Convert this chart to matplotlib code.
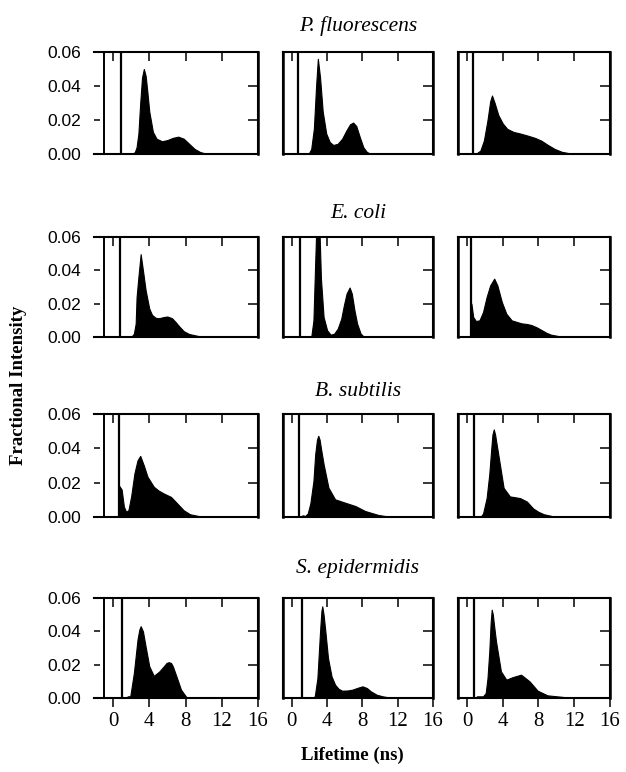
import matplotlib.pyplot as plt
from matplotlib import lines as mlines

plt.rcParams['font.family'] = 'Liberation Serif'

species = ['P. fluorescens', 'E. coli', 'B. subtilis', 'S. epidermidis']
x_ticks = [0, 4, 8, 12, 16]
y_ticks = [0.00, 0.02, 0.04, 0.06]
y_labels = ['0.00', '0.02', '0.04', '0.06']

# scatter peak position (ns) and filled base height, rows = species
spike_pos = [[0.92, 0.70, 0.65], [0.77, 0.95, 0.45], [0.65, 0.83, 0.74], [1.00, 1.10, 0.75]]
spike_base = [[0, 0, 0], [0, 0, 0.02], [0.018, 0.038, 0], [0.035, 0, 0]]

# lifetime distributions
pf1_t = [2.0, 2.4, 2.6, 2.8, 3.0, 3.2, 3.4, 3.6, 3.8, 4.0, 4.4, 4.8, 5.4, 6.0, 6.6, 7.2, 7.8, 8.4, 9.0, 9.6,
         10.2, 11.0]
pf1_i = [0, 0.001, 0.004, 0.012, 0.030, 0.045, 0.050, 0.046, 0.036, 0.025, 0.013, 0.009, 0.0075, 0.0082,
         0.0095, 0.0102, 0.0090, 0.0060, 0.0030, 0.0012, 0.0003, 0]
pf2_t = [1.9, 2.2, 2.5, 2.75, 2.95, 3.2, 3.5, 3.9, 4.3, 4.7, 5.2, 5.7, 6.2, 6.6, 6.95, 7.3, 7.7, 8.1, 8.5, 9.0]
pf2_i = [0, 0.003, 0.015, 0.040, 0.056, 0.045, 0.025, 0.012, 0.007, 0.0053, 0.006, 0.009, 0.014,
         0.0175, 0.0185, 0.0165, 0.010, 0.004, 0.0012, 0]
pf3_t = [1.1, 1.5, 1.9, 2.3, 2.6, 2.8, 3.1, 3.5, 4.0, 4.5, 5.2, 6.0, 6.8, 7.6, 8.3, 9.0, 9.8, 10.6, 11.4, 12.5]
pf3_i = [0.0005, 0.002, 0.008, 0.020, 0.031, 0.0344, 0.030, 0.023, 0.018, 0.0148, 0.013, 0.012,
         0.0108, 0.0095, 0.0079, 0.0055, 0.003, 0.0013, 0.0005, 0]

ec1_t = [2.0, 2.3, 2.5, 2.6, 2.8, 3.05, 3.3, 3.6, 4.0, 4.3, 4.7, 5.1, 5.6, 6.0, 6.5, 6.9, 7.3, 7.8, 8.4, 9.5, 11.0]
ec1_i = [0, 0.002, 0.008, 0.024, 0.036, 0.0497, 0.040, 0.028, 0.017, 0.0133, 0.0115, 0.0113, 0.012,
         0.0123, 0.0113, 0.009, 0.0064, 0.0035, 0.0018, 0.0005, 0]
ec2_t = [2.2, 2.45, 2.65, 2.8, 2.95, 3.1, 3.3, 3.6, 4.0, 4.4, 4.8, 5.2, 5.6, 5.9, 6.2, 6.55, 6.8, 7.1, 7.4, 7.8, 8.2]
ec2_i = [0, 0.01, 0.045, 0.07, 0.08, 0.07, 0.035, 0.012, 0.004, 0.0014, 0.002, 0.005, 0.011, 0.019,
         0.026, 0.0297, 0.026, 0.016, 0.008, 0.002, 0]
ec3_t = [0.5, 0.7, 1.0, 1.4, 1.8, 2.2, 2.6, 3.05, 3.4, 3.9, 4.4, 5.0, 5.6, 6.1, 6.7, 7.2, 7.8, 8.3, 8.9, 9.4,
         10.5, 11.5]
ec3_i = [0.02, 0.012, 0.0096, 0.010, 0.015, 0.024, 0.031, 0.035, 0.031, 0.021, 0.014, 0.010, 0.009,
         0.0082, 0.0078, 0.0072, 0.0058, 0.0043, 0.0025, 0.0014, 0.0003, 0]

bs1_t = [0.7, 0.95, 1.2, 1.45, 1.7, 2.0, 2.36, 2.7, 3.0, 3.4, 3.8, 4.5, 5.0, 5.6, 6.4, 7.1, 7.8, 8.5, 9.6, 10.5]
bs1_i = [0.018, 0.016, 0.006, 0.003, 0.004, 0.012, 0.0254, 0.033, 0.0356, 0.030, 0.0235, 0.0176,
         0.0155, 0.0137, 0.0117, 0.0078, 0.0039, 0.0016, 0.0004, 0]
bs2_t = [1.2, 1.5, 1.8, 2.1, 2.45, 2.65, 2.85, 3.0, 3.15, 3.3, 3.6, 4.15, 4.9, 6.0, 7.2, 8.3, 9.8, 11.3]
bs2_i = [0.001, 0.0006, 0.002, 0.008, 0.021, 0.0366, 0.045, 0.0473, 0.045, 0.040, 0.0308, 0.0171,
         0.0103, 0.0084, 0.0064, 0.0035, 0.0012, 0]
bs3_t = [1.5, 1.8, 2.2, 2.5, 2.7, 2.85, 3.0, 3.15, 3.3, 3.5, 4.1, 4.8, 5.4, 5.95, 6.7, 7.4, 8.0, 8.6, 10.0]
bs3_i = [0, 0.002, 0.011, 0.025, 0.0385, 0.048, 0.051, 0.048, 0.043, 0.0366, 0.017, 0.012, 0.0115,
         0.011, 0.009, 0.005, 0.003, 0.0016, 0]

se1_t = [1.6, 1.9, 2.3, 2.7, 2.9, 3.05, 3.3, 3.6, 4.0, 4.5, 5.1, 5.6, 5.9, 6.15, 6.4, 6.6, 7.0, 7.5, 8.1, 8.5]
se1_i = [0.001, 0.001, 0.015, 0.035, 0.041, 0.0431, 0.040, 0.0308, 0.019, 0.0133, 0.0159, 0.019, 0.021,
         0.0215, 0.021, 0.019, 0.0129, 0.005, 0.0005, 0]
se2_t = [2.3, 2.6, 2.9, 3.2, 3.35, 3.45, 3.6, 3.8, 4.1, 4.5, 4.9, 5.3, 5.7, 6.3, 6.85, 7.5, 8.0, 8.5, 8.95,
         9.6, 10.3, 11.4]
se2_i = [0, 0.001, 0.012, 0.040, 0.052, 0.055, 0.050, 0.040, 0.024, 0.013, 0.008, 0.0055, 0.0044, 0.0045,
         0.005, 0.0062, 0.007, 0.006, 0.004, 0.002, 0.001, 0]
se3_t = [1.1, 1.8, 2.1, 2.3, 2.5, 2.65, 2.77, 2.9, 3.0, 3.25, 3.8, 4.4, 5.1, 6.05, 7.0, 7.9, 9.0, 11.0, 12.0]
se3_i = [0.001, 0.001, 0.003, 0.012, 0.028, 0.045, 0.053, 0.050, 0.045, 0.034, 0.016, 0.011, 0.0125,
         0.014, 0.010, 0.0044, 0.0016, 0.0005, 0]

curves = [[(pf1_t, pf1_i), (pf2_t, pf2_i), (pf3_t, pf3_i)],
          [(ec1_t, ec1_i), (ec2_t, ec2_i), (ec3_t, ec3_i)],
          [(bs1_t, bs1_i), (bs2_t, bs2_i), (bs3_t, bs3_i)],
          [(se1_t, se1_i), (se2_t, se2_i), (se3_t, se3_i)]]

W, H = 626, 772
col_px = [(94, 258), (283, 433), (458, 610)]
row_px = [(52, 154), (237, 337), (414, 517), (598, 698)]
title_y = [26, 213, 392, 568]

fig = plt.figure(figsize=(W / 100, H / 100), dpi=100)

for r in range(4):
    for c in range(3):
        l, rr = col_px[c]
        t, b = row_px[r]
        ax = fig.add_axes([l / W, 1 - b / H, (rr - l) / W, (b - t) / H])

        t_vals, i_vals = curves[r][c]
        ax.fill_between(t_vals, i_vals, 0, color='k', lw=0.8)
        ax.vlines(spike_pos[r][c], 0, 0.07, color='k', lw=1.6)
        if spike_base[r][c] > 0:
            ax.bar(spike_pos[r][c], spike_base[r][c], width=0.3, color='k')

        ax.set_ylim(0, 0.06)
        if c == 0:
            ax.set_xlim(-2.1, 16)
            ax.axvline(-1, color='k', lw=1.4)
        else:
            ax.set_xlim(-1, 16)

        ax.set_yticks(y_ticks)
        ax.tick_params(axis='y', direction='in', left=(c == 0), right=True,
                       labelleft=(c == 0), length=7, width=1.1, pad=9)
        if c == 0:
            ax.set_yticklabels(y_labels, fontfamily='Liberation Sans', fontsize=12.5)
            for tk in ax.yaxis.get_major_ticks():
                tk.tick1line.set_markersize(4)

        ax.set_xticks(x_ticks)
        ax.tick_params(axis='x', direction='in', top=True, bottom=(r == 3),
                       labelbottom=(r == 3), length=6.5, width=1.1, pad=10, labelsize=15)
        if r == 3:
            # bottom ticks point outward on the last row
            for tk in ax.xaxis.get_major_ticks():
                tk.tick1line.set_marker(mlines.TICKDOWN)

        for s in ax.spines.values():
            s.set_linewidth(1.5)
        if c == 0:
            ax.spines['left'].set_visible(False)

        # vertical panel edges drawn on the figure itself
        edges = [rr] if c == 0 else [l, rr]
        for ex in edges:
            fig.add_artist(mlines.Line2D([ex / W, ex / W], [1 - b / H, 1 - t / H], color='k',
                                         lw=1.8, transform=fig.transFigure, zorder=10))

for r in range(4):
    fig.text(358 / W, 1 - title_y[r] / H, species[r], ha='center', va='center',
             style='italic', fontsize=15.5)

fig.text(19 / W, 1 - 385 / H, 'Fractional Intensity', rotation=90, ha='center', va='center',
         fontsize=13.5, fontweight='bold')
fig.text(352 / W, 1 - 755 / H, 'Lifetime (ns)', ha='center', va='center',
         fontsize=13.5, fontweight='bold')

fig.savefig('out.png', dpi=100)
